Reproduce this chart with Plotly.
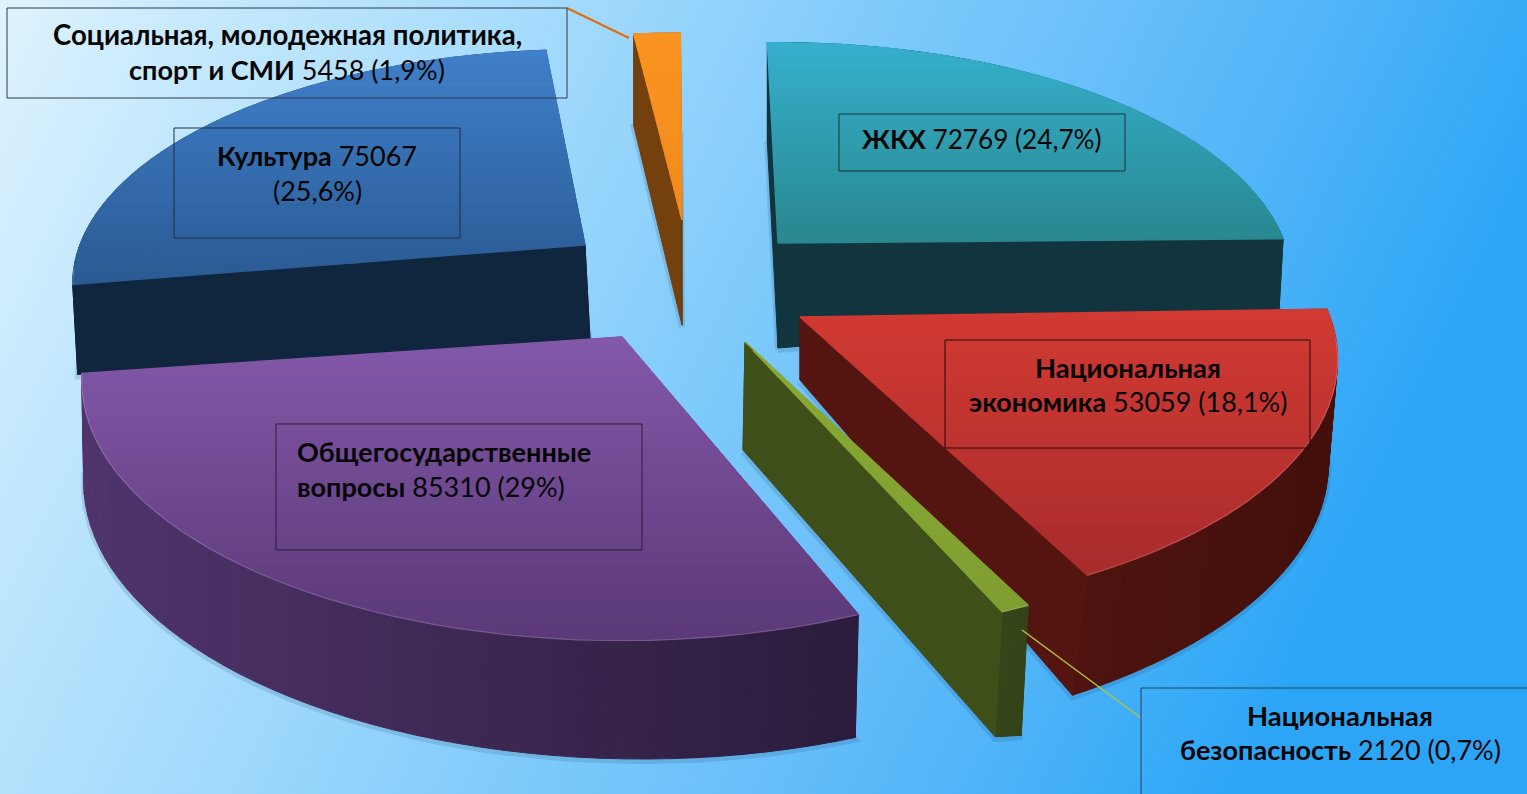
import math
import base64
import plotly.graph_objects as go

# ---------- data ----------
CATEGORIES = ["ЖКХ", "Национальная экономика", "Национальная безопасность",
              "Общегосударственные вопросы", "Культура",
              "Социальная, молодежная политика, спорт и СМИ"]
VALUES = [72769, 53059, 2120, 85310, 75067, 5458]
SHARES = ["24,7%", "18,1%", "0,7%", "29%", "25,6%", "1,9%"]

# ---------- look of the 3-D pie ----------
W, H = 1527, 794
START = 268.0
RX, RY, K = 530.0, 248.0, 0.167
APEX_X = [778, 800, 745, 622, 585, 682]
APEX_Y = [243, 317, 342, 337, 245, 220]
SCALE_X = [0.956, 1.0, 1.05, 1.005, 0.953, 1.0]
SCALE_Y = [0.943, 1.0, 1.0, 1.02, 0.92, 0.88]
ROT_A = [0.6, 1.0, 2.2, 3.2, 1.0, 2.6]     # small perspective correction at each slice's first edge
ROT_B = [1.8, 0.3, 2.2, 2.6, 3.5, 1.8]     # and at its last edge
# depth at apex / arc start / arc end, and bottom x-shift at the same places
DEPTH = [(105, 100, 70), (63, 105, 120), (108, 130, 125), (100, 123, 100), (95, 90, 90), (105, 92, 100)]
SHIFT = [(0, 0, -4), (0, -8, -15), (-2, -7, -7), (0, -3, 2), (5, 5, 7), (0, 0, 0)]
TOP_A = ["#35b0cd", "#d23a33", "#8aaa35", "#8358aa", "#4080ca", "#fb9420"]
TOP_B = ["#29878f", "#a82c2c", "#7f9e30", "#5b3977", "#2a5a93", "#f08a1c"]
SIDE_A = ["#12343f", "#5a1611", "#47581a", "#50346c", "#10263f", "#7c4510"]
SIDE_B = ["#12343f", "#43100c", "#34441a", "#2a1c3c", "#10263f", "#6a3a0c"]
ORDER = [0, 4, 5, 3, 1, 2]

BG_STOPS = [(0, "#dff3fe"), (0.17, "#bfe6fd"), (0.37, "#a0d9fc"), (0.54, "#80cbfb"),
            (0.68, "#6bc0fa"), (0.83, "#50b4f8"), (0.95, "#36aaf7"), (1, "#2ca5f6")]


def hex2rgb(c):
    return [int(c[i:i + 2], 16) for i in (1, 3, 5)]


def mix(a, b, t):
    t = max(0.0, min(1.0, t))
    pa, pb = hex2rgb(a), hex2rgb(b)
    return "rgb(%d,%d,%d)" % tuple(round(x + (y - x) * t) for x, y in zip(pa, pb))


def clip_band(poly, y0, y1):
    def clip(p, inside, cross):
        out = []
        for i in range(len(p)):
            a, b = p[i], p[(i + 1) % len(p)]
            if inside(a):
                out.append(a)
                if not inside(b):
                    out.append(cross(a, b))
            elif inside(b):
                out.append(cross(a, b))
        return out

    def crosser(y):
        def f(a, b):
            t = (y - a[1]) / (b[1] - a[1])
            return (a[0] + (b[0] - a[0]) * t, y)
        return f

    p = clip(poly, lambda q: q[1] >= y0, crosser(y0))
    if p:
        p = clip(p, lambda q: q[1] <= y1, crosser(y1))
    return p


fig = go.Figure()


def add_poly(pts, color, width=1.0):
    xs = [p[0] for p in pts] + [pts[0][0]]
    ys = [p[1] for p in pts] + [pts[0][1]]
    fig.add_trace(go.Scatter(x=xs, y=ys, mode="lines", fill="toself", fillcolor=color,
                             line=dict(color=color, width=width), hoverinfo="skip", showlegend=False))


total = sum(VALUES)
angles = [START]
for v in VALUES:
    angles.append(angles[-1] + v / total * 360.0)

for i in ORDER:
    a0, a1 = angles[i] + ROT_A[i], angles[i + 1] + ROT_B[i]
    n = 48
    cx, cy = APEX_X[i], APEX_Y[i]
    top = [(cx, cy)]
    bot = [(cx + SHIFT[i][0], cy + DEPTH[i][0])]
    for j in range(n + 1):
        u = j / n
        th = math.radians(a0 + (a1 - a0) * u)
        den = 1 - K * math.sin(th)
        x = cx + SCALE_X[i] * RX * math.cos(th) / den
        y = cy + SCALE_Y[i] * RY * math.sin(th) / den
        top.append((x, y))
        bot.append((x + SHIFT[i][1] + (SHIFT[i][2] - SHIFT[i][1]) * u,
                     y + DEPTH[i][1] + (DEPTH[i][2] - DEPTH[i][1]) * u))
    # soft shadow round the solid
    fig.add_trace(go.Scatter(x=[p[0] for p in bot] + [bot[0][0]], y=[p[1] + 2 for p in bot] + [bot[0][1] + 2],
                             mode="lines", line=dict(color="rgba(20,50,90,0.14)", width=6),
                             hoverinfo="skip", showlegend=False))
    # side faces
    m = len(top)
    xmin, xmax = min(p[0] for p in top), max(p[0] for p in top)
    quads = []
    for j in range(m):
        k2 = (j + 1) % m
        quad = [top[j], top[k2], bot[k2], bot[j]]
        mx = sum(p[0] for p in quad) / 4
        quads.append((max(p[1] for p in quad), quad, (mx - xmin) / max(1, xmax - xmin)))
    for _, quad, t in sorted(quads, key=lambda q: q[0]):
        add_poly(quad, mix(SIDE_A[i], SIDE_B[i], t))
    # top face, in horizontal bands
    ymin, ymax = min(p[1] for p in top), max(p[1] for p in top)
    bands = 32
    for b in range(bands):
        y0 = ymin + (ymax - ymin) * b / bands
        y1 = ymin + (ymax - ymin) * (b + 1) / bands
        part = clip_band(top, y0, y1)
        if len(part) >= 3:
            add_poly(part, mix(TOP_A[i], TOP_B[i], (b + 0.5) / bands), 1.4)
    # faint light rim on the front of the arc
    rim = [p for p in top[1:] if p[1] > cy + 20]
    if len(rim) > 2:
        fig.add_trace(go.Scatter(x=[p[0] for p in rim], y=[p[1] for p in rim], mode="lines",
                                 line=dict(color="rgba(255,255,255,0.16)", width=1.2),
                                 hoverinfo="skip", showlegend=False))

# ---------- leader lines ----------
fig.add_shape(type="line", x0=567, y0=8, x1=629, y1=38, line=dict(color="#e36c0a", width=2))
fig.add_shape(type="line", x0=1022, y0=630, x1=1141, y1=718, line=dict(color="#b4c441", width=1.5))

# ---------- label boxes ----------
BOXES = [(7, 8, 567, 98, "#2b3a48"), (174, 128, 460, 238, "#1d2f45"), (839, 114, 1125, 171, "#17343c"),
         (945, 340, 1310, 448, "#200808"), (276, 424, 642, 550, "#2c1c3c"), (1141, 688, 1535, 804, "#1a4460")]
for x0, y0, x1, y1, c in BOXES:
    fig.add_shape(type="rect", x0=x0, y0=y0, x1=x1, y1=y1, line=dict(color=c, width=1))

# ---------- labels ----------
LINES = [
    (287, 34, "center", 27.6, "<b>Социальная, молодежная политика,</b>"),
    (287, 69, "center", 27, "<b>спорт и СМИ</b> %d (%s)" % (VALUES[5], SHARES[5])),
    (317, 155, "center", 27, "<b>Культура</b> %d" % VALUES[4]),
    (317, 190, "center", 27, "(%s)" % SHARES[4]),
    (982, 139, "center", 26.2, "<b>ЖКХ</b> %d (%s)" % (VALUES[0], SHARES[0])),
    (1128, 367, "center", 27.4, "<b>Национальная</b>"),
    (1128, 401, "center", 27, "<b>экономика</b> %d (%s)" % (VALUES[1], SHARES[1])),
    (296, 451, "left", 27, "<b>Общегосударственные</b>"),
    (296, 486, "left", 27, "<b>вопросы</b> %d (%s)" % (VALUES[3], SHARES[3])),
    (1340, 715, "center", 27.4, "<b>Национальная</b>"),
    (1340, 749, "center", 27, "<b>безопасность</b> %d (%s)" % (VALUES[2], SHARES[2])),
]
for x, y, al, size, txt in LINES:
    fig.add_annotation(x=x, y=y, text=txt, showarrow=False, xanchor=al, yanchor="middle",
                       font=dict(family="Lato, Roboto, sans-serif", size=size, color="#050505"), borderpad=0)

# ---------- page background ----------
stops = "".join('<stop offset="%s" stop-color="%s"/>' % s for s in BG_STOPS)
svg = ('<svg xmlns="http://www.w3.org/2000/svg" width="%d" height="%d" preserveAspectRatio="none">'
       '<defs><linearGradient id="g" x1="0" y1="0" x2="1" y2="0.25">%s</linearGradient></defs>'
       '<rect width="100%%" height="100%%" fill="url(#g)"/></svg>' % (W, H, stops))
uri = "data:image/svg+xml;base64," + base64.b64encode(svg.encode()).decode()

fig.update_layout(
    width=W, height=H, margin=dict(l=0, r=0, t=0, b=0), showlegend=False,
    paper_bgcolor="#7cc9fa", plot_bgcolor="rgba(0,0,0,0)",
    xaxis=dict(range=[0, W], visible=False, fixedrange=True),
    yaxis=dict(range=[H, 0], visible=False, fixedrange=True),
    images=[dict(source=uri, xref="paper", yref="paper", x=0, y=1, sizex=1, sizey=1,
                 sizing="stretch", xanchor="left", yanchor="top", layer="below")],
)
fig.write_html("out.html", config={"displayModeBar": False},
               post_script="document.body.style.margin='0';document.documentElement.style.overflow='hidden';")
